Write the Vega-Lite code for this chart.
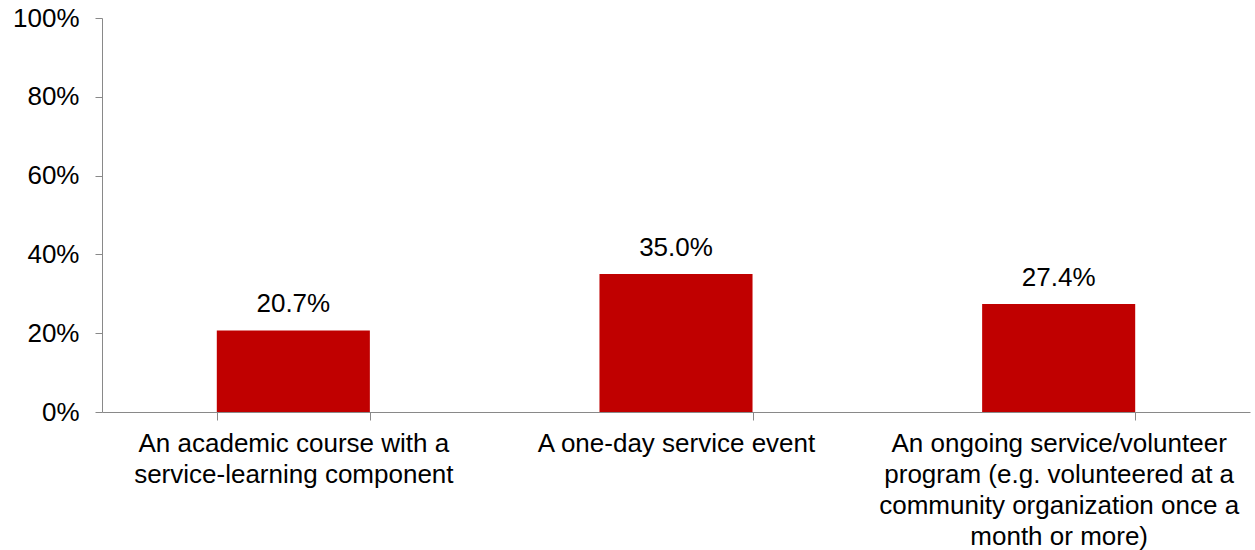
{
  "$schema": "https://vega.github.io/schema/vega-lite/v6.json",
  "width": 1148,
  "height": 394,
  "autosize": {"type": "none"},
  "padding": {"left": 102, "top": 18, "right": 5, "bottom": 138},
  "background": "white",
  "config": {
    "view": {"stroke": null},
    "font": "Liberation Sans",
    "axis": {"labelFont": "Liberation Sans", "labelColor": "black", "labelFontSize": 26, "domainColor": "#898989", "tickColor": "#898989", "grid": false, "title": null}
  },
  "data": {
    "values": [
      {"category": "An academic course with a|service-learning component", "value": 0.207},
      {"category": "A one-day service event", "value": 0.350},
      {"category": "An ongoing service/volunteer|program (e.g. volunteered at a|community organization once a|month or more)", "value": 0.274}
    ]
  },
  "encoding": {
    "x": {
      "field": "category",
      "type": "nominal",
      "sort": null,
      "scale": {"paddingInner": 0.6, "paddingOuter": 0.3},
      "axis": {"labelAngle": 0, "labelExpr": "split(datum.label, '|')", "labelLineHeight": 31, "labelPadding": 10, "tickBand": "extent", "tickSize": 8, "labelLimit": 0}
    },
    "y": {
      "field": "value",
      "type": "quantitative",
      "scale": {"domain": [0, 1]},
      "axis": {"format": ".0%", "values": [0, 0.2, 0.4, 0.6, 0.8, 1], "tickSize": 7, "labelPadding": 16}
    }
  },
  "layer": [
    {"mark": {"type": "bar", "color": "#C00000"}},
    {"mark": {"type": "text", "dy": -26, "fontSize": 26, "color": "black", "font": "Liberation Sans"}, "encoding": {"text": {"field": "value", "type": "quantitative", "format": ".1%"}}}
  ]
}
